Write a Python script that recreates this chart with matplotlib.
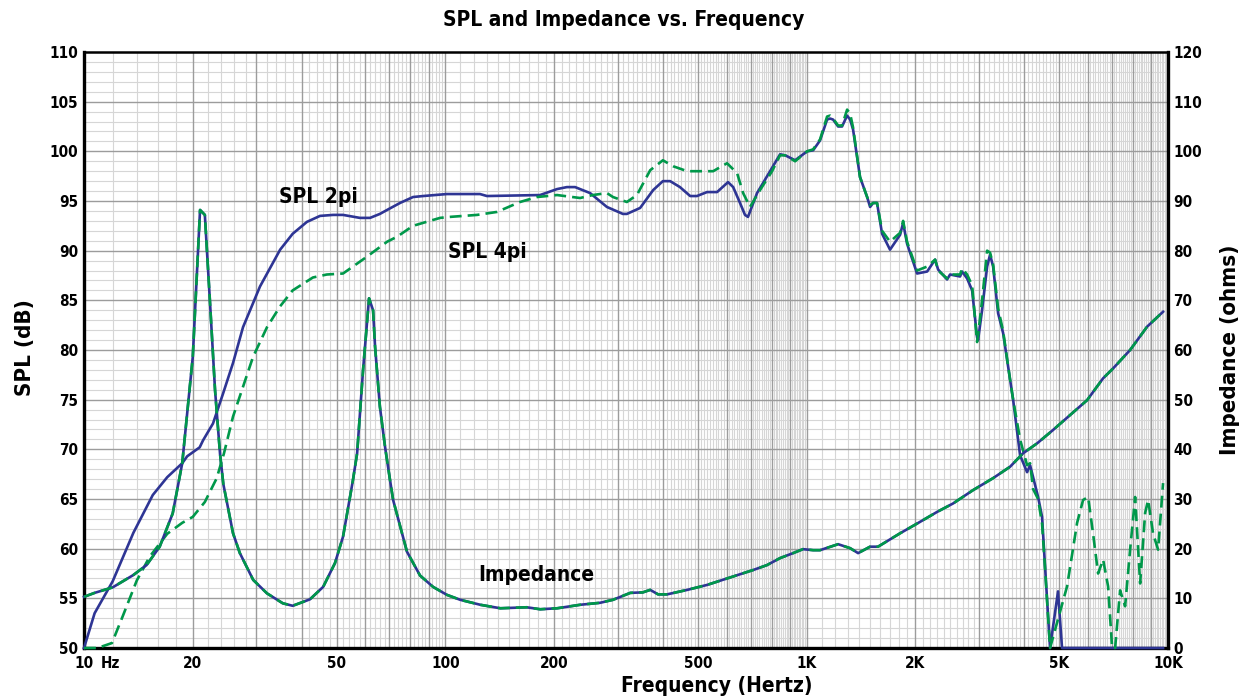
import numpy as np
import matplotlib
matplotlib.use('Agg')
import matplotlib.pyplot as plt
from matplotlib import font_manager

# SPL 2pi (blue solid)
f_2pi = [10, 10.7, 12.0, 13.7, 15.5, 17.0, 18.7, 19.3, 20.9, 21.35, 22.75, 24.25, 25.85,
         27.55, 30.7, 34.9, 37.8, 41.4, 45, 48.9, 52.1, 58, 61.9, 65.9, 69, 74.9, 81.4,
         86.8, 101, 124.7, 130.4, 182.9, 203.8, 217, 228.6, 251.5, 280, 310, 318, 346,
         376, 400, 419, 446, 476, 497, 530, 565, 606, 626, 654, 675, 688, 729, 792, 844,
         872, 929, 1003, 1042, 1089, 1139, 1161, 1183, 1222, 1253, 1294, 1319, 1344,
         1405, 1470, 1498, 1527, 1566, 1617, 1701, 1814, 1849, 1896, 2021, 2155, 2267,
         2311, 2447, 2494, 2658, 2692, 2780, 2870, 2962, 2981, 3058, 3158, 3218, 3281,
         3387, 3497, 3656, 3727, 3896, 4074, 4153, 4233, 4370, 4482, 4568, 4716, 4962,
         5090, 9691]
spl_2pi = [50, 53.5, 56.7, 61.6, 65.4, 67.2, 68.6, 69.3, 70.2, 70.9, 72.6, 75.6, 78.7,
           82.3, 86.4, 90.1, 91.7, 92.9, 93.5, 93.6, 93.6, 93.3, 93.3, 93.7, 94.1, 94.8, 95.4,
           95.5, 95.7, 95.7, 95.5, 95.6, 96.2, 96.4, 96.4, 95.8, 94.4, 93.7, 93.7, 94.3,
           96.1, 97.0, 97.0, 96.4, 95.5, 95.5, 95.9, 95.9, 96.9, 96.4, 94.8, 93.6, 93.4, 95.8, 98.0, 99.7,
           99.6, 99.1, 100.0, 100.1, 101.1, 103.2, 103.3, 103.2, 102.5, 102.5, 103.6, 103.2, 102.2,
           97.4, 95.4, 94.4, 94.8, 94.8, 91.7, 90.1, 91.6, 92.8, 90.7, 87.7, 87.9, 89.1,
           88.1, 87.1, 87.6, 87.4, 87.9, 87.2, 86.0, 81.3, 81.0, 84.0, 88.4, 89.6, 88.4,
           83.7, 81.7, 77.0, 75.0, 69.4, 67.7, 68.4, 67.2, 65.2, 63.2, 58.2, 50, 55.7,
           50, 50]

# SPL 4pi (green dashed)
f_4pi = [10, 10.9, 11.95, 12.8, 14.0, 15.2, 17.0, 18.7, 20.0, 21.6, 23.3, 24.4, 25.85,
         27.55, 29.36, 32.1, 34.9, 37.8, 43.0, 47.0, 52.1, 55.5, 60.7, 69, 73.5, 81.4,
         86.8, 96.7, 103, 122.4, 139, 160.9, 179.4, 203.8, 236, 256, 280, 291, 318, 339,
         369, 400, 427, 467, 507, 551, 602, 642, 667, 697, 743, 802, 844, 872, 929,
         1003, 1042, 1089, 1139, 1161, 1183, 1222, 1253, 1294, 1319, 1344, 1405, 1470,
         1498, 1527, 1566, 1617, 1701, 1814, 1849, 1896, 2021, 2155, 2267, 2311, 2447,
         2494, 2658, 2692, 2780, 2870, 2962, 2981, 3058, 3158, 3218, 3281, 3387, 3497,
         3656, 3727, 3896, 4074, 4153, 4233, 4370, 4482, 4568, 4716, 5256, 5603, 5821,
         6010, 6204, 6405, 6613, 6827, 7004, 7139, 7370, 7609, 7855, 8110, 8373, 8644,
         8811, 9095, 9389, 9691]
spl_4pi = [50, 50, 50.5, 53.2, 56.8, 59.2, 61.5, 62.6, 63.2, 64.7, 67.1, 69.6, 73.3,
           76.3, 79.3, 82.3, 84.4, 86.0, 87.3, 87.6, 87.7, 88.4, 89.4, 90.9, 91.4, 92.5,
           92.8, 93.3, 93.4, 93.6, 93.9, 94.9, 95.4, 95.6, 95.3, 95.6, 95.8, 95.4, 94.9, 95.6,
           98.1, 99.1, 98.5, 98.0, 98.0, 98.0, 98.8, 97.8, 95.8, 94.4, 96.1, 98.0, 99.6, 99.6, 99.0,
           100.0, 100.2, 101.2, 103.5, 103.6, 103.3, 102.6, 102.6, 104.2, 103.8, 102.4, 97.4, 95.4,
           94.6, 94.8, 94.8, 92.0, 90.9, 91.8, 93.0, 90.9, 88.0, 88.4, 89.1, 88.0, 87.2,
           87.6, 87.6, 88.2, 87.6, 86.5, 80.8, 81.5, 85.0, 90.0, 89.8, 88.6, 84.2, 81.9,
           77.0, 75.0, 71.0, 68.4, 68.6, 66.0, 65.0, 62.5, 58.0, 50, 56.2, 62.6, 64.9,
           65.2, 61.5, 57.5, 58.9, 56.2, 50, 50, 55.8, 54.2, 59.9, 65.2, 56.5, 63.6,
           64.9, 61.5, 59.9, 66.6]

# Impedance (ohms, right axis)
f_imp = [10, 10.7, 12.0, 13.7, 14.9, 16.2, 17.6, 18.7, 20.0, 20.95, 21.6, 22.3, 23.05,
         23.8, 24.3, 25.85, 27.0, 29.4, 32.1, 35.5, 37.8, 42.2, 45.9, 49.5, 52.1, 54.5,
         55.5, 57.0, 59.2, 61.5, 63.1, 63.9, 65.9, 68.1, 70.3, 71.7, 78.3, 85.1, 92.5, 101,
         110, 125, 142, 168, 183, 204, 236, 268, 291, 325, 352, 369, 388, 411, 467, 530,
         626, 711, 777, 844, 917, 977, 1042, 1089, 1222, 1319, 1388, 1498, 1576, 1814,
         2060, 2296, 2542, 2889, 3281, 3656, 3971, 4342, 4808, 5358, 5972, 6613, 7050,
         7855, 8755, 9691]
impedance = [10.3, 11.1, 12.2, 14.7, 16.7, 20.4, 27.1, 37.2, 58.6, 88.2, 87.2, 70.1, 51.9,
             39.0, 33.0, 23.1, 19.1, 13.7, 11.0, 9.0, 8.5, 9.8, 12.3, 17.1, 22.4, 30.5,
             33.8, 39.2, 56.0, 70.4, 68.0, 60.7, 48.6, 40.5, 33.8, 29.8, 19.4, 14.6, 12.3, 10.7,
             9.7, 8.7, 8.0, 8.2, 7.8, 8.0, 8.7, 9.1, 9.7, 11.1, 11.2, 11.7, 10.8, 10.8, 11.7, 12.7,
             14.4, 15.7, 16.7, 18.1, 19.1, 19.9, 19.7, 19.7, 20.9, 20.1, 19.1, 20.4, 20.4, 23.1,
             25.4, 27.4, 29.1, 31.8, 34.2, 36.5, 39.2, 41.2, 43.9, 46.9, 49.9, 54.3, 56.3,
             60.0, 64.7, 67.7]

x_ticks = [10, 20, 50, 100, 200, 500, 1000, 2000, 5000, 10000]
x_labels = ['10', '20', '50', '100', '200', '500', '1K', '2K', '5K', '10K']

BLUE = '#2E3594'
GREEN = '#00984A'

avail = {f.name for f in font_manager.fontManager.ttflist}
fam = [n for n in ['Liberation Sans Narrow', 'DejaVu Sans'] if n in avail]
plt.rcParams['font.family'] = fam
plt.rcParams['font.weight'] = 'bold'
plt.rcParams['font.stretch'] = 'normal' if fam[0] == 'Liberation Sans Narrow' else 'condensed'

fig = plt.figure(figsize=(12.47, 7.0), dpi=100)
ax = fig.add_axes([84 / 1247, 52 / 700, 1084 / 1247, 596 / 700])
ax.set_xscale('log')
ax.set_xlim(10, 10000)
ax.set_ylim(50, 110)

# grid lines: dark at n*10^k, light subdivisions (step 2 in first decade, finer afterwards)
dark = [n * 10 ** k for k in (1, 2, 3) for n in range(1, 10)] + [10000]
light = [v for v in np.arange(12, 100, 2) if v % 10 != 0]
for dec in (100, 1000):
    light += [dec * m / 10 for m in range(11, 100) if m % 10 != 0]
for v in light:
    ax.axvline(v, color='#d6d6d6', lw=0.8, zorder=0)
for v in dark:
    ax.axvline(v, color='#9c9c9c', lw=1.0, zorder=0.5)
for v in range(51, 110):
    ax.axhline(v, color='#d6d6d6' if v % 5 else '#9c9c9c', lw=0.8 if v % 5 else 1.0,
               zorder=0 if v % 5 else 0.5)

ax.set_xticks(x_ticks, x_labels)
ax.xaxis.set_minor_locator(matplotlib.ticker.NullLocator())
ax.set_yticks(range(50, 111, 5))
ax.tick_params(axis='both', length=0, labelsize=11, pad=4)
ax.tick_params(axis='x', pad=6)

ax.plot(f_2pi, spl_2pi, color=BLUE, lw=1.9, zorder=3, clip_on=False)
ax.plot(f_4pi, spl_4pi, color=GREEN, lw=1.9, dashes=(4.5, 2.3), zorder=4, clip_on=False)

ax2 = ax.twinx()
ax2.set_ylim(0, 120)
ax2.set_yticks(range(0, 121, 10))
ax2.tick_params(axis='y', length=0, labelsize=11, pad=4)
ax2.plot(f_imp, impedance, color=BLUE, lw=1.9, zorder=3, clip_on=False)
ax2.plot(f_imp, impedance, color=GREEN, lw=1.9, dashes=(4.5, 2.3), zorder=4, clip_on=False)

for s in ax2.spines.values():
    s.set_visible(False)
for s in ax.spines.values():
    s.set_color('black')
    s.set_zorder(2.5)
ax.spines['left'].set_linewidth(2.4)
ax.spines['right'].set_linewidth(2.4)
ax.spines['bottom'].set_linewidth(2.4)
ax.spines['top'].set_linewidth(1.8)

ax.text(11.8, -0.026, 'Hz', transform=ax.get_xaxis_transform(), ha='center', va='center',
        fontsize=11, fontweight='bold')

ax.text(34.7, 95.4, 'SPL 2pi', ha='left', va='center', fontsize=15)
ax.text(102, 89.9, 'SPL 4pi', ha='left', va='center', fontsize=15)
ax2.text(123, 14.7, 'Impedance', ha='left', va='center', fontsize=15)

fig.text(0.5, 0.971, 'SPL and Impedance vs. Frequency', ha='center', va='center', fontsize=15)
fig.text(0.575, 0.02, 'Frequency (Hertz)', ha='center', va='center', fontsize=15)
fig.text(0.020, 0.504, 'SPL (dB)', ha='center', va='center', rotation=90, fontsize=16)
fig.text(0.986, 0.50, 'Impedance (ohms)', ha='center', va='center', rotation=90, fontsize=16)

fig.savefig('out.png', dpi=100)
